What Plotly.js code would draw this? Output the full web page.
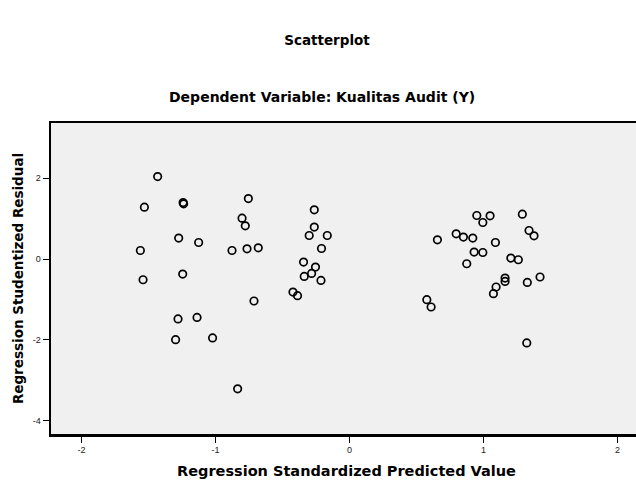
<!DOCTYPE html>
<html>
<head>
<meta charset="utf-8">
<script src="https://cdn.plot.ly/plotly-3.0.1.min.js"></script>
<style>
html,body{margin:0;padding:0;background:#fff;overflow:hidden;}
#chart{width:645px;height:485px;}
</style>
</head>
<body>
<div id="chart"></div>
<script>
// Regression Standardized Predicted Value
var predicted = [
  -1.432, -1.531, -1.242, -1.238, -0.755, -0.263, -0.802, -0.778, -0.263, -0.301,
  -0.166, -1.275, -1.126, -1.561, -0.877, -0.765, -0.681, -0.209, -0.343, -0.254,
  -0.283, -0.338, -0.213, -1.245, -1.541, -0.422, -0.388, -0.713, -1.280, -1.138,
  -1.298, -1.022, -0.835,
  0.656, 0.577, 0.609, 0.796, 0.850, 0.920, 0.950, 0.995, 1.049, 0.930,
  0.995, 0.875, 1.089, 1.290, 1.340, 1.377, 1.204, 1.260, 1.161, 1.161,
  1.094, 1.074, 1.327, 1.422, 1.323
];
// Regression Studentized Residual
var residual = [
  2.040, 1.284, 1.398, 1.365, 1.496, 1.217, 1.012, 0.822, 0.790, 0.583,
  0.583, 0.519, 0.410, 0.212, 0.212, 0.254, 0.279, 0.262, -0.074, -0.198,
  -0.356, -0.430, -0.528, -0.370, -0.511, -0.815, -0.906, -1.037, -1.481, -1.442,
  -1.993, -1.951, -3.210,
  0.477, -1.005, -1.185, 0.625, 0.543, 0.519, 1.077, 0.904, 1.069, 0.173,
  0.163, -0.116, 0.410, 1.111, 0.706, 0.575, 0.025, -0.017, -0.469, -0.553,
  -0.691, -0.857, -0.578, -0.444, -2.074
];
var xTicks = [-2, -1, 0, 1, 2];
var yTicks = [-4, -2, 0, 2];

var fontFam = 'DejaVu Sans, Liberation Sans, sans-serif';
var tickFam = 'Liberation Sans, Arial, sans-serif';

var trace = {
  type: 'scatter',
  mode: 'markers',
  x: predicted,
  y: residual,
  marker: {
    symbol: 'circle-open',
    size: 7.5,
    color: '#000',
    line: {width: 1.7, color: '#000'}
  },
  hoverinfo: 'x+y'
};

var layout = {
  width: 645,
  height: 485,
  margin: {l: 51, r: 3, t: 123, b: 50.5},
  paper_bgcolor: '#ffffff',
  plot_bgcolor: '#f0f0f0',
  showlegend: false,
  title: {
    text: '<b>Scatterplot</b>',
    font: {family: fontFam, size: 13.5, color: '#000'},
    xref: 'container', x: 327 / 645, xanchor: 'center',
    yref: 'container', y: 1 - 40 / 485, yanchor: 'middle'
  },
  annotations: [{
    text: '<b>Dependent Variable: Kualitas Audit (Y)</b>',
    font: {family: fontFam, size: 14, color: '#000'},
    xref: 'paper', yref: 'paper',
    x: 0.4585, y: 1.0835,
    xanchor: 'center', yanchor: 'middle',
    showarrow: false
  }],
  xaxis: {
    range: [-2.228, 2.183],
    tickmode: 'array',
    tickvals: xTicks,
    ticktext: xTicks.map(String),
    ticks: 'outside', ticklen: 6, tickwidth: 1, tickcolor: '#000',
    tickfont: {family: tickFam, size: 9, color: '#222'},
    showgrid: false, zeroline: false,
    showline: true, linecolor: '#000', linewidth: 2.5, mirror: true,
    title: {
      text: '<b>Regression Standardized Predicted Value</b>',
      font: {family: fontFam, size: 14.5, color: '#000'},
      standoff: 12
    },
    fixedrange: true
  },
  yaxis: {
    range: [-4.326, 3.365],
    tickmode: 'array',
    tickvals: yTicks,
    ticktext: yTicks.map(String),
    ticks: 'outside', ticklen: 6, tickwidth: 1, tickcolor: '#000',
    tickfont: {family: tickFam, size: 9, color: '#222'},
    showgrid: false, zeroline: false,
    showline: true, linecolor: '#000', linewidth: 2.5, mirror: true,
    title: {
      text: '<b>Regression Studentized Residual</b>',
      font: {family: fontFam, size: 13.5, color: '#000'},
      standoff: 6
    },
    fixedrange: true
  }
};

Plotly.newPlot('chart', [trace], layout, {displayModeBar: false, staticPlot: true});
</script>
</body>
</html>
